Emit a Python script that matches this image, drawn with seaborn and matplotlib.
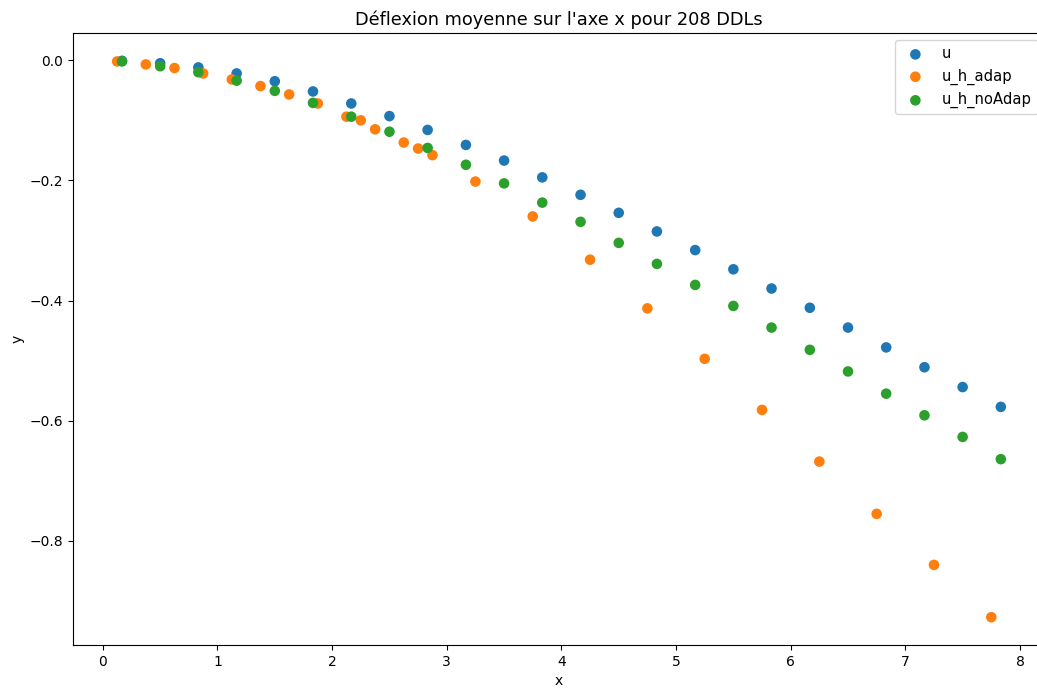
import numpy as np
import pandas as pd
import matplotlib
matplotlib.use("Agg")
import matplotlib.pyplot as plt
import seaborn as sns

x_u = [0.167, 0.5, 0.833, 1.167, 1.5, 1.833, 2.167, 2.5, 2.833, 3.167, 3.5, 3.833,
       4.167, 4.5, 4.833, 5.167, 5.5, 5.833, 6.167, 6.5, 6.833, 7.167, 7.5, 7.833]
y_u = [-0.001, -0.005, -0.012, -0.022, -0.035, -0.052, -0.072, -0.093, -0.116, -0.141,
       -0.167, -0.195, -0.224, -0.254, -0.285, -0.316, -0.348, -0.380, -0.412, -0.445,
       -0.478, -0.511, -0.544, -0.577]

x_adap = [0.125, 0.375, 0.625, 0.875, 1.125, 1.375, 1.625, 1.875, 2.125, 2.25, 2.375,
          2.625, 2.75, 2.875, 3.25, 3.75, 4.25, 4.75, 5.25, 5.75, 6.25, 6.75, 7.25, 7.75]
y_adap = [-0.002, -0.007, -0.013, -0.022, -0.032, -0.043, -0.057, -0.072, -0.094, -0.100,
          -0.115, -0.137, -0.147, -0.158, -0.202, -0.260, -0.332, -0.413, -0.497, -0.582,
          -0.668, -0.755, -0.840, -0.927]

x_noadap = x_u
y_noadap = [-0.002, -0.010, -0.020, -0.034, -0.051, -0.071, -0.094, -0.119, -0.146, -0.174,
            -0.205, -0.237, -0.269, -0.304, -0.339, -0.374, -0.409, -0.445, -0.482, -0.518,
            -0.555, -0.591, -0.627, -0.664]

labels = ["u", "u_h_adap", "u_h_noAdap"]
title = "Déflexion moyenne sur l'axe x pour 208 DDLs"

df = pd.concat([
    pd.DataFrame({"x": x_u, "y": y_u, "serie": labels[0]}),
    pd.DataFrame({"x": x_adap, "y": y_adap, "serie": labels[1]}),
    pd.DataFrame({"x": x_noadap, "y": y_noadap, "serie": labels[2]}),
], ignore_index=True)

W, H = 1037, 692
fig = plt.figure(figsize=(W / 100, H / 100), dpi=100)
ax = fig.add_axes([73 / W, (H - 645) / H, (1045 - 73) / W, (645 - 33) / H])

palette = {labels[0]: "#1f77b4", labels[1]: "#ff7f0e", labels[2]: "#2ca02c"}
for lab in labels:
    sub = df[df["serie"] == lab]
    sns.scatterplot(data=sub, x="x", y="y", color=palette[lab], label=lab,
                    s=58, linewidth=0, edgecolor="none", ax=ax)

ax.set_title(title, fontsize=12.8)
ax.set_xlabel("x")
ax.set_ylabel("y")
ax.legend(loc="upper right", fontsize=10.6)
fig.savefig("out.png", dpi=100)
